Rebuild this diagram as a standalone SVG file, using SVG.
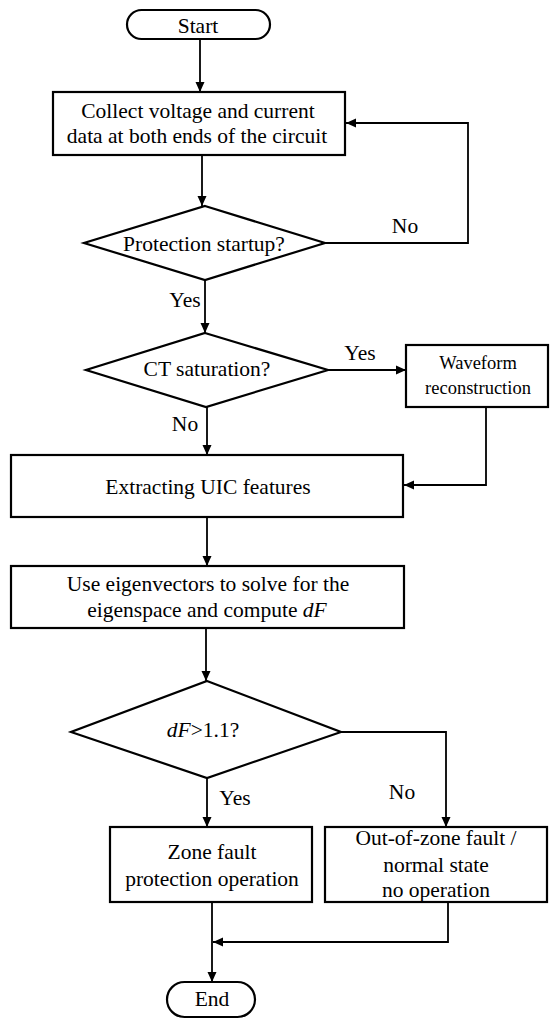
<svg xmlns="http://www.w3.org/2000/svg" width="559" height="1026" viewBox="0 0 559 1026">
<style>
.n{fill:#fff;stroke:#000;stroke-width:2.2}
.c{fill:none;stroke:#000;stroke-width:1.8}
text{font-family:"Liberation Serif","Times New Roman",serif;font-size:21.5px;fill:#000;text-anchor:middle}
.s{font-size:18.5px}
.i{font-style:italic}
</style>
<defs>
<marker id="a" viewBox="0 0 10 10" refX="10" refY="5" markerWidth="10" markerHeight="10" markerUnits="userSpaceOnUse" orient="auto">
<path d="M0,0.5 L10,5 L0,9.5 Z" fill="#000"/>
</marker>
</defs>
<rect width="559" height="1026" fill="#fff"/>
<g id="connectors">
<path class="c" d="M200,39 V92" marker-end="url(#a)"/>
<path class="c" d="M202,155 V206" marker-end="url(#a)"/>
<path class="c" d="M325,243 H468 V123 H346" marker-end="url(#a)"/>
<path class="c" d="M205,280 V333" marker-end="url(#a)"/>
<path class="c" d="M328,370 H406" marker-end="url(#a)"/>
<path class="c" d="M207,407 V455" marker-end="url(#a)"/>
<path class="c" d="M486,407 V485 H404" marker-end="url(#a)"/>
<path class="c" d="M207,517 V566" marker-end="url(#a)"/>
<path class="c" d="M206,628 V681" marker-end="url(#a)"/>
<path class="c" d="M207,778 V827" marker-end="url(#a)"/>
<path class="c" d="M341,732 H446 V827" marker-end="url(#a)"/>
<path class="c" d="M212,902 V982" marker-end="url(#a)"/>
<path class="c" d="M448,902 V942 H213" marker-end="url(#a)"/>
<text x="405" y="233">No</text>
<text x="185" y="307">Yes</text>
<text x="360" y="360">Yes</text>
<text x="185" y="431">No</text>
<text x="235" y="805">Yes</text>
<text x="402" y="799">No</text>
</g>
<g id="start">
<rect class="n" x="127" y="10" width="143" height="29" rx="14.5"/>
<text x="198" y="33">Start</text>
</g>
<g id="collect">
<rect class="n" x="53" y="92" width="292" height="63"/>
<text x="198" y="118">Collect voltage and current</text>
<text x="197" y="143">data at both ends of the circuit</text>
</g>
<g id="protection">
<polygon class="n" points="205,206 325,243 205,280 84,243"/>
<text x="204" y="251">Protection startup?</text>
</g>
<g id="ct">
<polygon class="n" points="205,333 328,370 206,407 86,370"/>
<text x="207" y="376">CT saturation?</text>
</g>
<g id="waveform">
<rect class="n" x="406" y="345" width="142" height="62"/>
<text class="s" x="478" y="369">Waveform</text>
<text class="s" x="478" y="394">reconstruction</text>
</g>
<g id="extract">
<rect class="n" x="11" y="455" width="392" height="62"/>
<text x="208" y="494">Extracting UIC features</text>
</g>
<g id="eigen">
<rect class="n" x="11" y="566" width="393" height="62"/>
<text x="208" y="591">Use eigenvectors to solve for the</text>
<text x="207" y="617">eigenspace and compute <tspan class="i">dF</tspan></text>
</g>
<g id="df">
<polygon class="n" points="207,681 341,732 207,778 71,732"/>
<text x="203" y="737"><tspan class="i">dF</tspan>&gt;1.1?</text>
</g>
<g id="zone">
<rect class="n" x="110" y="827" width="202" height="75"/>
<text x="212" y="859">Zone fault</text>
<text x="212" y="886">protection operation</text>
</g>
<g id="outzone">
<rect class="n" x="325" y="827" width="222" height="75"/>
<text x="436" y="845">Out-of-zone fault /</text>
<text x="436" y="872">normal state</text>
<text x="436" y="897">no operation</text>
</g>
<g id="end">
<rect class="n" x="167" y="982" width="88" height="35" rx="17.5"/>
<text x="212" y="1006">End</text>
</g>
</svg>
